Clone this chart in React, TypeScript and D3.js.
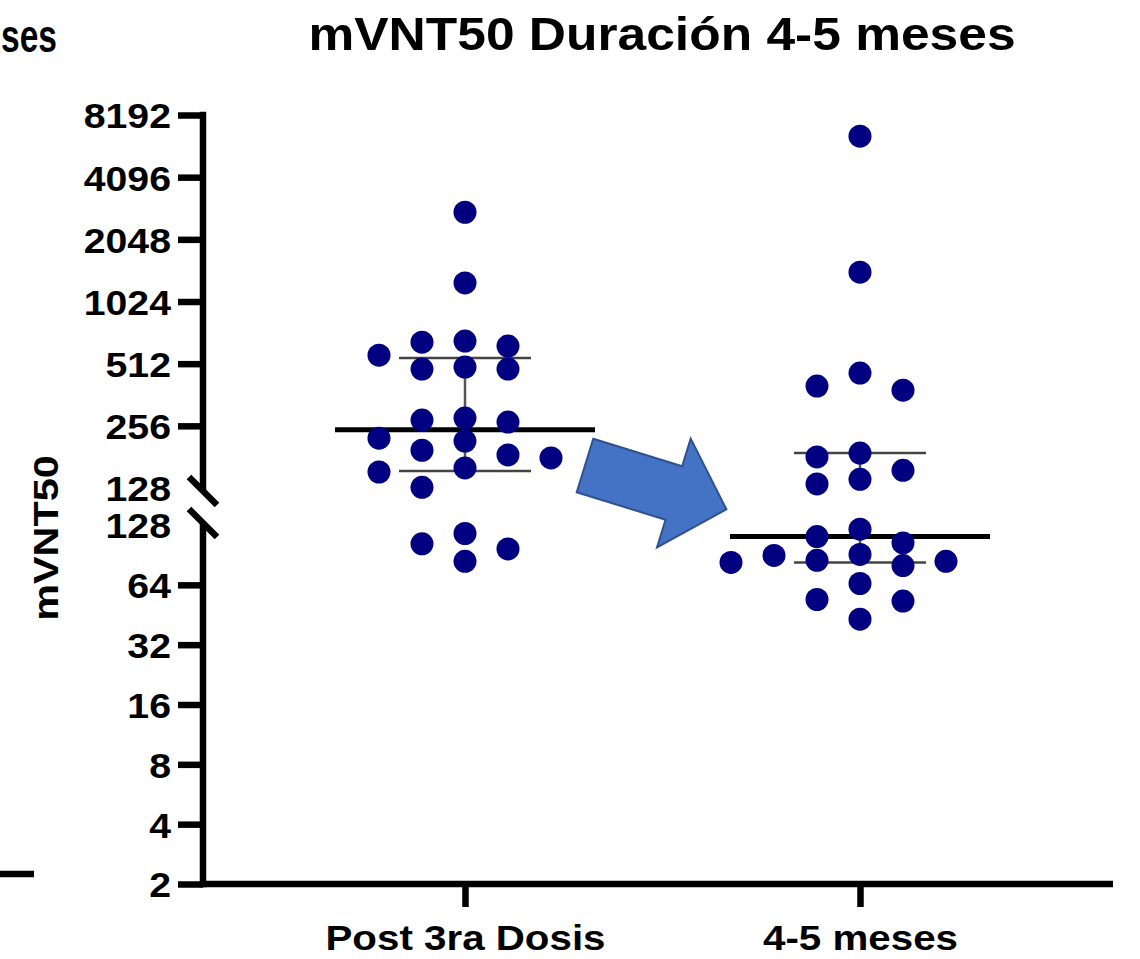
import React, { useEffect, useRef } from 'react';
import * as d3 from 'd3';

// categories on the x axis
const categories = ['Post 3ra Dosis', '4-5 meses'];

// mVNT50 titres
const post3raDosis = [2770, 1260, 659, 651, 623, 563, 493, 482, 482, 279, 273, 267, 223, 216, 195, 185, 179, 160, 153, 129, 116, 103, 97, 84];
const meses45 = [6470, 1420, 461, 399, 381, 189, 181, 156, 141, 134, 122, 112, 104, 91, 90, 85, 84, 83, 80, 65, 54, 53, 43];

// log2 axis, split in two segments at 128
const upperTicks = [128, 256, 512, 1024, 2048, 4096, 8192];
const lowerTicks = [2, 4, 8, 16, 32, 64, 128];

const title = 'mVNT50 Duración 4-5 meses';
const yTitle = 'mVNT50';

const FONT = '"Liberation Sans", Arial, Helvetica, sans-serif';
const DOT = '#000080';
const SX = 1.12; // the original lettering is a bit wider than Arial

// GraphPad style percentile: (n+1)p
const pct = (vals: number[], p: number) => {
  const s = [...vals].sort((a, b) => a - b);
  const h = (s.length + 1) * p - 1;
  const lo = Math.max(0, Math.floor(h));
  const hi = Math.min(s.length - 1, lo + 1);
  return s[lo] + (h - lo) * (s[hi] - s[lo]);
};

export default function App() {
  const ref = useRef<SVGSVGElement>(null);

  useEffect(() => {
    if (!ref.current) return;
    const svg = d3.select(ref.current);
    svg.selectAll('*').remove();

    const axisX = 203;
    const axisW = 6.5;
    const baseY = 884;

    const upper = d3.scaleLog().base(2).domain([128, 8192]).range([488, 115]);
    const lower = d3.scaleLog().base(2).domain([2, 128]).range([baseY, 525]);
    const yPos = (v: number) => (v >= 128 ? upper(v) : lower(v));
    const x = d3.scalePoint<string>().domain(categories).range([465, 860]);

    const series = [post3raDosis, meses45];

    // ---- left remnants of the neighbouring panel
    svg.append('text')
      .attr('x', 1).attr('y', 52)
      .attr('textLength', 56).attr('lengthAdjust', 'spacingAndGlyphs')
      .attr('font-family', FONT).attr('font-weight', 700).attr('font-size', 46)
      .text('ses');
    svg.append('line')
      .attr('x1', 0).attr('x2', 34).attr('y1', 874).attr('y2', 874)
      .attr('stroke', '#000').attr('stroke-width', axisW);

    // ---- title
    svg.append('text')
      .attr('transform', `translate(662,50) scale(${SX},1)`)
      .attr('text-anchor', 'middle')
      .attr('font-family', FONT).attr('font-weight', 700).attr('font-size', 46)
      .text(title);

    // ---- y title
    svg.append('text')
      .attr('transform', `translate(58,538) rotate(-90) scale(1.15,1)`)
      .attr('text-anchor', 'middle')
      .attr('font-family', FONT).attr('font-weight', 700).attr('font-size', 36)
      .text(yTitle);

    // ---- y axis segments
    const styleAxis = (g: any) => {
      g.select('.domain').remove();
      g.selectAll('.tick line').attr('stroke', '#000').attr('stroke-width', axisW);
      g.selectAll('.tick')
        .filter((d: any) => d === 128)
        .select('line').remove();
      g.selectAll('.tick text')
        .attr('x', 0).attr('dy', '0.36em')
        .attr('transform', `translate(-32,0) scale(1.09,1)`)
        .attr('fill', '#000')
        .attr('font-family', FONT).attr('font-weight', 700).attr('font-size', 36);
    };

    svg.append('g')
      .attr('transform', `translate(${axisX},0)`)
      .call(d3.axisLeft(upper).tickValues(upperTicks).tickSize(25).tickSizeOuter(0).tickFormat(d3.format('d')) as any)
      .call(styleAxis);
    svg.append('g')
      .attr('transform', `translate(${axisX},0)`)
      .call(d3.axisLeft(lower).tickValues(lowerTicks).tickSize(25).tickSizeOuter(0).tickFormat(d3.format('d')) as any)
      .call(styleAxis);

    const upperEnd = upper(128) + 3;
    const lowerStart = lower(128) - 2;
    svg.append('line')
      .attr('x1', axisX).attr('x2', axisX)
      .attr('y1', upper(8192) - axisW / 2).attr('y2', upperEnd)
      .attr('stroke', '#000').attr('stroke-width', axisW);
    svg.append('line')
      .attr('x1', axisX).attr('x2', axisX)
      .attr('y1', lowerStart).attr('y2', baseY + axisW / 2)
      .attr('stroke', '#000').attr('stroke-width', axisW);

    // break marks
    [upperEnd, lowerStart].forEach(cy => {
      svg.append('line')
        .attr('x1', axisX - 14).attr('y1', cy - 14)
        .attr('x2', axisX + 14).attr('y2', cy + 14)
        .attr('stroke', '#000').attr('stroke-width', axisW);
    });

    // ---- x axis
    const xg = svg.append('g')
      .attr('transform', `translate(0,${baseY})`)
      .call(d3.axisBottom(x).tickSize(23).tickSizeOuter(0) as any);
    xg.select('.domain').remove();
    xg.selectAll('.tick line').attr('stroke', '#000').attr('stroke-width', axisW);
    xg.selectAll('.tick text')
      .attr('y', 0).attr('dy', 0)
      .attr('transform', `translate(0,66) scale(${SX},1)`)
      .attr('fill', '#000')
      .attr('font-family', FONT).attr('font-weight', 700).attr('font-size', 36);
    svg.append('line')
      .attr('x1', axisX - axisW / 2).attr('x2', 1113)
      .attr('y1', baseY).attr('y2', baseY)
      .attr('stroke', '#000').attr('stroke-width', axisW);

    // ---- median + interquartile range
    series.forEach((vals, i) => {
      const cx = x(categories[i])!;
      const med = pct(vals, 0.5);
      const q1 = pct(vals, 0.25);
      const q3 = pct(vals, 0.75);

      // vertical bar, interrupted by the break
      const segs: [number, number][] = [];
      if (q1 >= 128) segs.push([upper(q3), upper(q1)]);
      else if (q3 < 128) segs.push([lower(q3), lower(q1)]);
      else {
        segs.push([upper(q3), upperEnd - 1]);
        segs.push([lowerStart + 3, lower(q1)]);
      }
      segs.forEach(([a, b]) => {
        svg.append('line')
          .attr('x1', cx).attr('x2', cx).attr('y1', a).attr('y2', b)
          .attr('stroke', '#555').attr('stroke-width', 2.5);
      });
      [q1, q3].forEach(q => {
        svg.append('line')
          .attr('x1', cx - 66).attr('x2', cx + 66)
          .attr('y1', yPos(q)).attr('y2', yPos(q))
          .attr('stroke', '#444').attr('stroke-width', 2.5);
      });
      svg.append('line')
        .attr('x1', cx - 130).attr('x2', cx + 130)
        .attr('y1', yPos(med)).attr('y2', yPos(med))
        .attr('stroke', '#000').attr('stroke-width', 5);
    });

    // ---- dots, spread sideways so they don't overlap
    const r = 11.5;
    const step = 43;
    const order = [0, -1, 1, -2, 2, -3, 3, -4, 4];
    series.forEach((vals, i) => {
      const cx = x(categories[i])!;
      const placed: { c: number; y: number }[] = [];
      const pts = vals
        .map(v => ({ v, y: yPos(v) }))
        .sort((a, b) => a.y - b.y)
        .map(p => {
          const c = order.find(k => placed.every(q => q.c !== k || Math.abs(q.y - p.y) >= 2 * r - 0.5)) ?? 0;
          placed.push({ c, y: p.y });
          return { ...p, cx: cx + c * step };
        });
      svg.append('g')
        .selectAll('circle')
        .data(pts)
        .join('circle')
        .attr('cx', d => d.cx)
        .attr('cy', d => d.y)
        .attr('r', r)
        .attr('fill', DOT);
    });

    // ---- annotation arrow
    svg.append('path')
      .attr('d', 'M0,-28 L93,-28 L93,-57 L148,0 L93,57 L93,28 L0,28 Z')
      .attr('transform', 'translate(585,465.5) rotate(17.2)')
      .attr('fill', '#4472C4')
      .attr('stroke', '#2F528F')
      .attr('stroke-width', 2)
      .attr('stroke-linejoin', 'miter');
  }, []);

  return (
    <div style={{ position: 'absolute', left: 0, top: 0, background: '#fff' }}>
      <svg ref={ref} width={1140} height={959} style={{ display: 'block' }} />
    </div>
  );
}
